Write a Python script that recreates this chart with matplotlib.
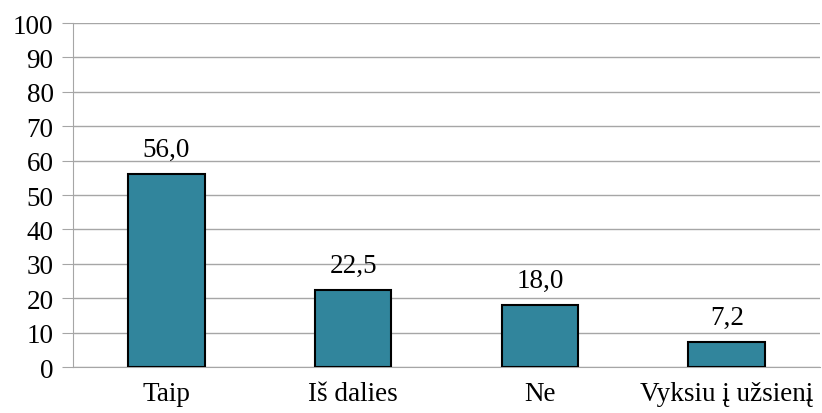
import matplotlib
matplotlib.use("Agg")
import matplotlib.pyplot as plt

categories = ["Taip", "Iš dalies", "Ne", "Vyksiu į užsienį"]
values = [56.0, 22.5, 18.0, 7.2]
yticks = list(range(0, 101, 10))

plt.rcParams['font.family'] = ['Liberation Serif', 'DejaVu Serif']

fig = plt.figure(figsize=(8.22, 4.14), dpi=100)
ax = fig.add_axes([0.0888, 0.111, 0.909, 0.831])

x = list(range(len(categories)))
bars = ax.bar(x, values, width=0.41, color="#31859C", edgecolor="black", linewidth=1.5, zorder=3)
for xi, v in zip(x, values):
    ax.text(xi, v + 3.5, f"{v:.1f}".replace(".", ","), ha="center", va="bottom", fontsize=19.5)

ax.set_xlim(-0.5, len(categories) - 0.5)
ax.set_ylim(0, 100)
ax.set_yticks(yticks)
ax.set_yticklabels([str(t) for t in yticks], fontsize=19.5)
ax.set_xticks(x)
ax.set_xticklabels(categories, fontsize=19.5)
ax.yaxis.grid(True, color="#A6A6A6", linewidth=1, zorder=0)
ax.set_axisbelow(True)
for s in ["top", "right"]:
    ax.spines[s].set_visible(False)
ax.spines["left"].set_color("#A6A6A6")
ax.spines["bottom"].set_color("#A6A6A6")
ax.tick_params(axis="y", length=8, color="#A6A6A6", pad=6)
ax.tick_params(axis="x", length=0, pad=10)

fig.savefig("out.png", dpi=100)
